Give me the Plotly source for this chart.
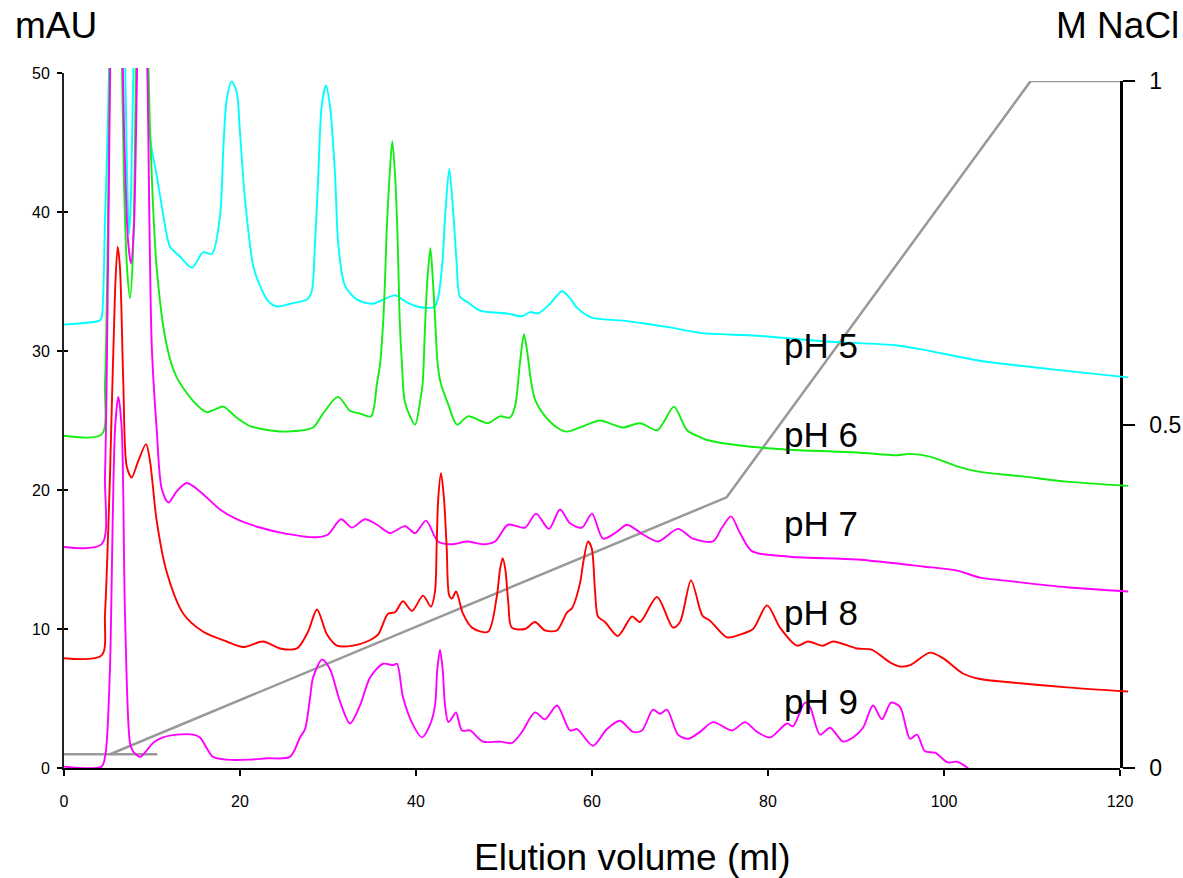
import plotly.graph_objects as go

# ---------------- data (elution volume in ml, absorbance in mAU) ----------------
ph5_ml = [0.0, 4.09, 4.28, 4.66, 5.03, 5.45, 6.14, 6.82, 7.16, 7.39, 7.61, 7.95, 8.86, 9.43, 9.77,
          10.57, 11.25, 12.05, 13.18, 14.55, 15.8, 16.82, 17.73, 18.1, 18.49, 19.06, 19.63, 20.0,
          20.57, 21.51, 22.27, 23.18, 24.2, 25.68, 27.61, 28.15, 28.52, 28.9, 29.28, 29.77, 30.23,
          30.8, 31.17, 31.93, 33.3, 35.11, 36.25, 37.61, 38.98, 40.11, 41.59, 42.16, 42.53, 42.99,
          43.33, 43.78, 44.24, 44.62, 45.0, 45.91, 47.27, 50.34, 52.05, 52.95, 53.86, 55.23,
          56.59, 57.5, 58.3, 60.0, 63.18, 65.8, 68.86, 72.27, 78.75, 86.25, 94.66, 97.61, 104.09,
          112.05, 120.91]
ph5_mau = [31.9, 32.2, 32.4, 39.4, 47.6, 60, 72, 55, 43, 38.4, 41, 52, 66, 52, 45.4,
           42.5, 39.9, 37.5, 36.8, 36.0, 37.1, 37.0, 39.7, 44.5, 48.1, 49.4, 48.6, 45.7,
           40.9, 36.1, 34.7, 33.6, 33.2, 33.4, 33.7, 34.3, 37.7, 42.7, 47.6, 49.1, 47.6,
           42.7, 37.7, 34.7, 33.7, 33.4, 33.7, 34.0, 33.5, 33.2, 33.1, 33.2, 33.9, 36.3,
           39.9, 43.1, 39.9, 36.3, 33.9, 33.5, 32.9, 32.7, 32.5, 32.8, 32.7, 33.4,
           34.3, 33.8, 33.1, 32.4, 32.2, 32.0, 31.7, 31.3, 31.1, 30.7, 30.4, 30.1, 29.3,
           28.7, 28.1]

ph6_ml = [0.0, 4.28, 4.66, 5.03, 5.34, 5.91, 6.48, 6.82, 7.16, 7.5, 7.84, 8.18, 8.75, 9.32, 9.77,
          10.53, 11.67, 12.81, 14.69, 16.22, 17.16, 18.1, 19.63, 21.14, 24.89, 28.3, 29.43, 31.14,
          32.5, 33.64, 34.89, 35.57, 35.91, 36.28, 36.48, 36.67, 36.97, 37.31, 37.65, 37.88, 38.03,
          38.15, 38.41, 38.75, 39.89, 40.45, 40.76, 41.02, 41.28, 41.63, 41.9, 42.16, 42.47, 42.81,
          43.64, 44.66, 45.91, 47.27, 48.18, 49.55, 50.68, 51.25, 51.82, 52.27, 52.65, 53.03, 53.52,
          54.43, 56.02, 57.16, 58.64, 60.91, 62.39, 63.52, 65.45, 67.39, 68.07, 69.32, 70.8, 72.27,
          73.07, 76.82, 82.5, 90.11, 94.66, 96.14, 98.41, 101.48, 104.09, 108.64, 113.98, 120.91]
ph6_mau = [23.9, 24.0, 27.7, 41, 60, 75, 55, 42, 36, 33.8, 37, 50, 68, 58, 46.0,
           36.0, 30.4, 28.1, 26.4, 25.6, 25.8, 26.0, 25.2, 24.6, 24.2, 24.5, 25.5, 26.7,
           25.7, 25.5, 25.3, 27.7, 29.0, 32.2, 35.1, 38.7, 42.3, 45.1, 42.3, 38.7, 35.1,
           32.2, 29.0, 26.3, 24.7, 26.3, 27.7, 31.7, 35.0, 37.4, 35.3, 32.4, 29.0, 27.7,
           26.2, 24.7, 25.3, 25.0, 24.8, 25.3, 25.2, 26.0, 29.2, 31.2, 29.9, 28.0, 26.5,
           25.5, 24.5, 24.2, 24.5, 25.0, 24.7, 24.5, 24.8, 24.3, 24.8, 26.0, 24.3, 23.8,
           23.6, 23.2, 22.9, 22.7, 22.5, 22.6, 22.4, 21.7, 21.3, 21.0, 20.6, 20.3]

ph7_ml = [0.0, 4.28, 4.66, 5.03, 5.34, 5.8, 6.36, 6.82, 7.27, 7.61, 7.95, 8.3, 8.86, 9.43, 9.97,
          10.53, 11.1, 11.85, 12.81, 13.94, 15.45, 17.73, 19.63, 22.27, 24.89, 28.75, 30.0, 31.48,
          32.73, 34.2, 35.57, 37.05, 38.75, 39.89, 41.14, 42.5, 44.2, 45.8, 47.61, 48.98, 50.45,
          52.39, 53.64, 55.11, 56.36, 57.5, 58.86, 60.0, 61.25, 62.84, 63.98, 65.8, 67.5, 69.77,
          71.48, 73.75, 74.77, 75.8, 76.82, 78.18, 82.5, 90.11, 97.61, 101.48, 104.09, 106.7,
          113.98, 120.91]
ph7_mau = [15.9, 16.1, 21.1, 37.6, 55, 68, 60, 46, 38, 36.3, 39, 50, 66, 52, 30.4,
           24.4, 20.1, 19.1, 19.9, 20.5, 19.9, 18.6, 17.9, 17.3, 16.9, 16.6, 16.8, 17.9,
           17.3, 17.9, 17.5, 16.9, 17.4, 16.9, 17.8, 16.3, 16.1, 16.3, 16.1, 16.3, 17.5,
           17.3, 18.3, 17.2, 18.6, 17.6, 17.3, 18.3, 16.5, 17.0, 17.5, 16.8, 16.3, 17.2,
           16.5, 16.3, 17.3, 18.1, 16.9, 15.6, 15.2, 15.0, 14.5, 14.2, 13.7, 13.5,
           13.0, 12.7]

ph8_ml = [0.0, 4.28, 4.66, 5.23, 5.8, 6.1, 6.36, 6.74, 7.13, 7.69, 8.44, 9.32, 9.77, 10.53, 11.67,
          13.56, 15.83, 18.49, 20.38, 22.61, 24.55, 26.48, 27.73, 28.75, 29.89, 31.02, 32.84, 34.43,
          35.68, 36.82, 37.61, 38.52, 39.55, 40.8, 41.7, 42.16, 42.35, 42.53, 42.84, 43.18, 43.49,
          43.78, 44.09, 44.55, 45.34, 46.36, 48.18, 49.17, 49.55, 49.85, 50.15, 50.49, 50.88, 52.39,
          53.52, 54.66, 56.02, 57.16, 57.73, 58.64, 59.01, 59.55, 59.97, 60.34, 60.68, 61.48, 62.95,
          64.55, 65.45, 67.39, 69.2, 70.0, 71.25, 72.27, 72.61, 73.41, 75.34, 76.82, 78.3, 79.89,
          81.36, 83.3, 84.55, 86.25, 87.39, 90.11, 91.82, 93.86, 95.0, 96.14, 98.41, 99.89, 102.16,
          104.09, 108.64, 113.98, 120.91]
ph8_mau = [7.9, 8.1, 11.1, 21.1, 34.3, 37.5, 36.0, 27.7, 21.7, 20.9, 22.1, 23.3, 22.1, 17.8, 14.1,
           11.1, 9.8, 9.1, 8.7, 9.1, 8.6, 8.6, 9.8, 11.4, 9.6, 8.8, 8.8, 9.1,
           9.6, 11.1, 11.2, 12.0, 11.3, 12.4, 11.6, 12.7, 16.1, 19.4, 21.2, 19.4, 15.8,
           12.4, 12.2, 12.7, 11.1, 10.1, 9.8, 12.3, 14.3, 15.1, 14.3, 11.9, 10.1, 10.0,
           10.5, 9.9, 9.9, 11.2, 11.5, 13.3, 14.8, 16.3, 15.8, 12.8, 10.9, 10.5, 9.5,
           10.9, 10.5, 12.3, 10.1, 10.5, 13.5, 11.4, 10.9, 10.6, 9.4, 9.6, 10.0, 11.7,
           10.1, 8.8, 9.1, 8.8, 9.1, 8.6, 8.5, 7.6, 7.3, 7.4, 8.3, 7.9, 6.8,
           6.4, 6.1, 5.8, 5.5]

ph9_ml = [0.0, 4.28, 4.66, 4.85, 5.23, 5.8, 6.17, 6.56, 6.93, 7.5, 7.84, 8.64, 9.32, 10.11, 11.25,
          12.84, 14.66, 15.45, 16.25, 16.93, 18.52, 21.14, 23.07, 25.68, 26.82, 27.39, 27.95, 28.3,
          29.32, 30.23, 31.36, 32.5, 33.64, 34.77, 36.25, 37.39, 37.84, 38.52, 39.66, 40.68, 41.59,
          42.16, 42.42, 42.73, 43.03, 43.3, 43.67, 44.09, 44.55, 45.23, 46.14, 47.61, 49.55, 50.91,
          52.05, 53.52, 54.66, 56.02, 57.5, 58.3, 60.11, 61.7, 63.18, 64.66, 65.68, 66.93, 67.73,
          68.52, 69.77, 70.91, 72.27, 73.75, 75.91, 77.39, 78.75, 80.23, 82.16, 82.84, 84.2, 84.77,
          85.91, 87.05, 88.52, 89.66, 90.8, 91.93, 92.95, 93.98, 95.0, 96.14, 96.93, 97.84, 98.98,
          100.45, 101.48, 102.73]
ph9_mau = [0.1, 0.1, 0.8, 1.8, 7.3, 24.4, 26.7, 24.4, 11.1, 1.8, 1.2, 0.8, 1.2, 1.8, 2.2,
           2.4, 2.4, 2.2, 1.4, 0.8, 0.6, 0.6, 0.7, 0.8, 2.2, 2.8, 5.0, 6.5,
           7.8, 7.1, 4.8, 3.2, 4.5, 6.5, 7.5, 7.4, 7.5, 5.1, 3.1, 2.2, 3.1,
           4.5, 7.1, 8.5, 7.1, 4.5, 3.3, 3.6, 4.0, 2.7, 2.7, 1.9, 1.9, 1.8,
           2.6, 4.0, 3.5, 4.5, 2.7, 2.8, 1.6, 2.8, 3.4, 2.6, 2.7, 4.2, 3.9,
           4.2, 2.4, 2.1, 2.6, 3.3, 2.7, 3.3, 2.6, 2.2, 3.2, 3.0, 4.7, 4.4,
           2.4, 2.9, 1.9, 2.2, 2.9, 4.5, 3.5, 4.7, 4.4, 2.1, 2.4, 1.2, 1.1,
           0.4, 0.45, 0.0]

# NaCl gradient (M)
hold_ml = [0.0, 10.6]
hold_nacl = [0.02, 0.02]
gradient_ml = [5.23, 75.3, 109.85, 120.0]
gradient_nacl = [0.02, 0.394, 1.0, 1.0]

series = [
    ("pH 5", ph5_ml, ph5_mau, "#00ffff"),
    ("pH 6", ph6_ml, ph6_mau, "#11ee11"),
    ("pH 7", ph7_ml, ph7_mau, "#ff00ff"),
    ("pH 8", ph8_ml, ph8_mau, "#ff0000"),
    ("pH 9", ph9_ml, ph9_mau, "#ff00ff"),
]
label_mau = [30.4, 24.0, 17.6, 11.2, 4.8]

x_ticks = [0, 20, 40, 60, 80, 100, 120]
y_ticks = [0, 10, 20, 30, 40, 50]
nacl_ticks = [0, 0.5, 1]
nacl_ticktext = ["0", "0.5", "1"]

# ---------------- geometry (pixels) ----------------
W, H = 1183, 878
ML, MR, MT, MB = 64, 50, 68, 110
PW = W - ML - MR          # paper width
PH = H - MT - MB          # paper height
AX_R = 1120               # right end of visible x axis (px)
AX_T = 73                 # top of visible y axis (px)
N_T = 81                  # px where NaCl = 1
x_dom = (AX_R - ML) / PW
y_dom = (H - MB - AX_T) / PH
y2_dom = (H - MB - N_T) / PH

FONT = "Liberation Sans, Arial, sans-serif"

fig = go.Figure()

# gradient on the visible x axis / right axis
fig.add_trace(go.Scatter(x=hold_ml, y=hold_nacl, xaxis="x", yaxis="y2", mode="lines",
                         line=dict(color="#999999", width=2.5), hoverinfo="skip", showlegend=False))
fig.add_trace(go.Scatter(x=gradient_ml, y=gradient_nacl, xaxis="x", yaxis="y2", mode="lines",
                         line=dict(color="#999999", width=2.5), hoverinfo="skip", showlegend=False))
# empty traces so the left axes get drawn
fig.add_trace(go.Scatter(x=[], y=[], xaxis="x", yaxis="y", showlegend=False))
fig.add_trace(go.Scatter(x=[], y=[], xaxis="x", yaxis="y4", showlegend=False))

# chromatograms on a slightly larger (hidden) frame so they may run past the axes like the original
for name, xs, ys, col in series:
    fig.add_trace(go.Scatter(x=xs, y=ys, xaxis="x2", yaxis="y3", mode="lines", name=name,
                             line=dict(color=col, width=1.9, shape="spline", smoothing=0.8),
                             hoverinfo="skip", showlegend=False))

annotations = []
for (name, _, _, _), yv in zip(series, label_mau):
    annotations.append(dict(text=name, x=81.6, y=yv, xref="x", yref="y", xanchor="left",
                            yanchor="middle", showarrow=False,
                            font=dict(family=FONT, size=35, color="black")))
annotations += [
    dict(text="mAU", x=(13 - ML) / PW, y=(H - MB - 26) / PH, xref="paper", yref="paper",
         xanchor="left", yanchor="middle", showarrow=False,
         font=dict(family=FONT, size=37, color="black")),
    dict(text="M NaCl", x=(1054 - ML) / PW, y=(H - MB - 26) / PH, xref="paper", yref="paper",
         xanchor="left", yanchor="middle", showarrow=False,
         font=dict(family=FONT, size=37, color="black")),
    dict(text="Elution volume (ml)", x=(633 - ML) / PW, y=(H - MB - 857) / PH, xref="paper",
         yref="paper", xanchor="center", yanchor="middle", showarrow=False,
         font=dict(family=FONT, size=37, color="black")),
]

fig.update_layout(
    width=W, height=H,
    margin=dict(l=ML, r=MR, t=MT, b=MB, pad=0, autoexpand=False),
    paper_bgcolor="white", plot_bgcolor="rgba(0,0,0,0)",
    showlegend=False,
    font=dict(family=FONT, color="black"),
    annotations=annotations,
    xaxis=dict(domain=[0, x_dom], range=[0, 120], anchor="y", tickvals=x_ticks,
               ticks="outside", ticklen=6, tickwidth=1.5, tickcolor="black",
               showline=True, linecolor="black", linewidth=2, showgrid=False, zeroline=False,
               tickfont=dict(size=16), ticklabelstandoff=12, fixedrange=True),
    yaxis=dict(domain=[0, y_dom], range=[0, 50], anchor="x", tickvals=y_ticks,
               ticks="outside", ticklen=5, tickwidth=2, tickcolor="black",
               showline=True, linecolor="#222222", linewidth=2, showgrid=False, zeroline=False,
               tickfont=dict(size=16), ticklabelstandoff=4, fixedrange=True),
    yaxis4=dict(overlaying="y", range=[0, 50], anchor="x", tickvals=y_ticks, ticks="inside",
                ticklen=4, tickwidth=2, tickcolor="black", showticklabels=False,
                showline=False, showgrid=False, zeroline=False, fixedrange=True),
    yaxis2=dict(domain=[0, y2_dom], range=[0, 1], anchor="x", side="right",
                tickvals=nacl_ticks, ticktext=nacl_ticktext,
                ticks="outside", ticklen=12, tickwidth=2, tickcolor="black",
                showline=True, linecolor="black", linewidth=2.5, showgrid=False, zeroline=False,
                tickfont=dict(size=23), ticklabelstandoff=10, fixedrange=True),
    xaxis2=dict(domain=[0, 1], range=[0, 120 / x_dom], anchor="y3", visible=False,
                fixedrange=True),
    yaxis3=dict(domain=[0, 1], range=[0, 50 / y_dom], anchor="x2", visible=False,
                fixedrange=True),
)

fig.write_html("out.html", config={"displayModeBar": False})
